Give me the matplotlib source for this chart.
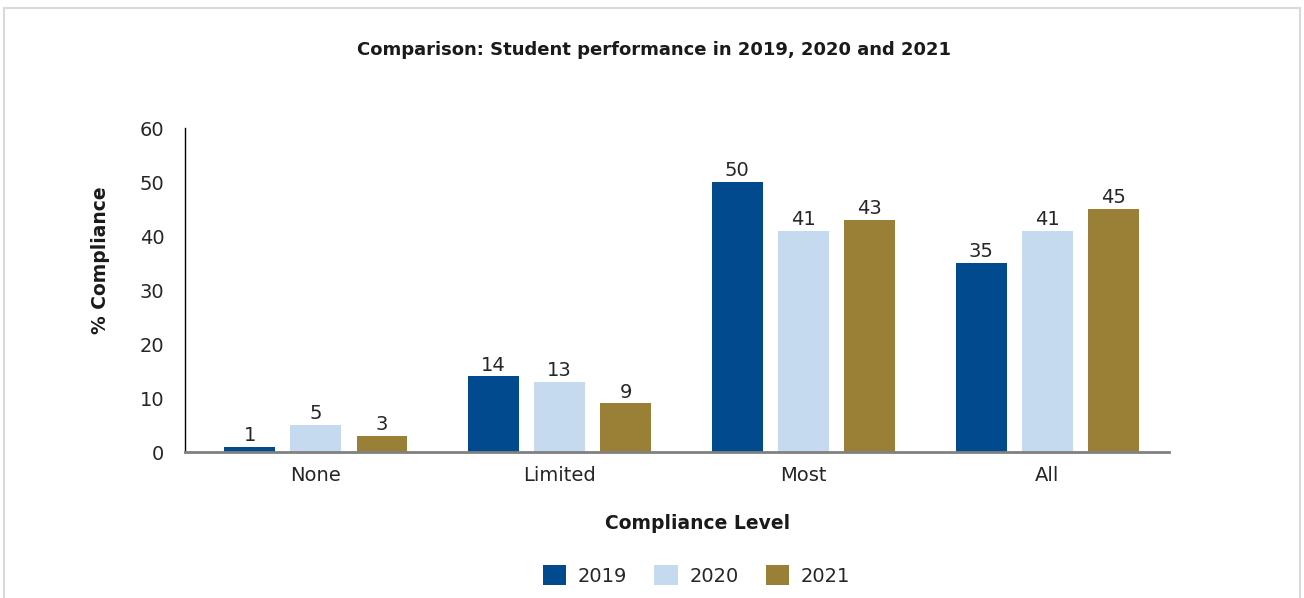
import numpy as np
import matplotlib.pyplot as plt
from matplotlib.patches import Rectangle

plt.rcParams['font.family'] = ['DejaVu Sans']

levels = ['None', 'Limited', 'Most', 'All']
years = ['2019', '2020', '2021']
scores = {
    '2019': [1, 14, 50, 35],
    '2020': [5, 13, 41, 41],
    '2021': [3, 9, 43, 45],
}
colors = ['#004A8D', '#C6DAEF', '#9A8037']

fig = plt.figure(figsize=(13.04, 5.98), dpi=100)
ax = fig.add_axes([0.1419, 0.2441, 0.7546, 0.5418])

x = np.arange(len(levels))
width = 0.209
step = 0.271
for i, (year, color) in enumerate(zip(years, colors)):
    pos = x + (i - 1) * step
    bars = ax.bar(pos, scores[year], width, color=color, label=year)
    for b, v in zip(bars, scores[year]):
        ax.text(b.get_x() + b.get_width() / 2, v + 0.35, str(v),
                ha='center', va='bottom', fontsize=14, color='#262626')

ax.set_xlim(-0.537, len(levels) - 0.5)
ax.set_ylim(0, 60)
ax.set_yticks(range(0, 61, 10))
ax.set_xticks(x)
ax.set_xticklabels(levels)
ax.tick_params(axis='both', length=0, labelsize=14, colors='#262626')
ax.tick_params(axis='y', pad=15)
ax.tick_params(axis='x', pad=10)

for side in ['top', 'right']:
    ax.spines[side].set_visible(False)
ax.spines['left'].set_color('#000000')
ax.spines['left'].set_linewidth(1.0)
ax.spines['bottom'].set_color('#808080')
ax.spines['bottom'].set_linewidth(2.0)

fig.text(0.5015, 0.916, 'Comparison: Student performance in 2019, 2020 and 2021',
         ha='center', va='center', fontsize=13, fontweight='bold', color='#1a1a1a')
fig.text(0.0767, 0.565, '% Compliance', rotation=90, ha='center', va='center',
         fontsize=13.5, fontweight='bold', color='#1a1a1a')
fig.text(0.535, 0.125, 'Compliance Level', ha='center', va='center',
         fontsize=13.5, fontweight='bold', color='#1a1a1a')

fig.legend(loc='center', bbox_to_anchor=(0.534, 0.038), ncol=3, frameon=False,
           fontsize=14, handlelength=1.2, handleheight=1.2, handletextpad=0.6,
           columnspacing=1.4, labelcolor='#262626')

fig.patches.append(Rectangle((0.003, -0.01), 0.994, 0.997, transform=fig.transFigure,
                             fill=False, edgecolor='#D9D9D9', linewidth=1.5))

fig.savefig('out.png', dpi=100)
